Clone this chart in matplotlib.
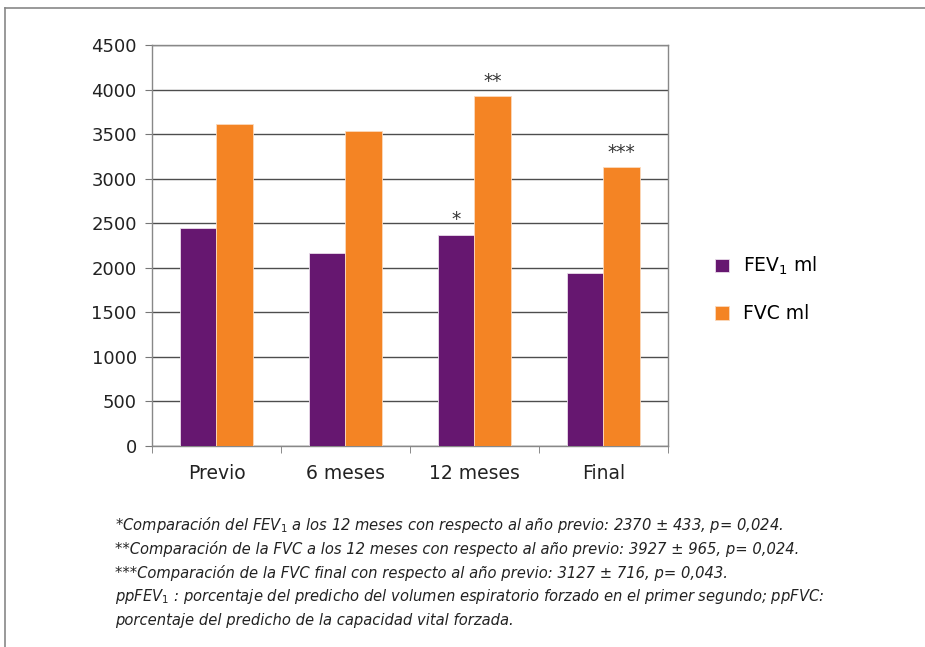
import matplotlib.pyplot as plt
import numpy as np
from matplotlib.lines import Line2D

plt.rcParams["font.family"] = ["DejaVu Sans"]

# Data
categories = ["Previo", "6 meses", "12 meses", "Final"]
fev1_ml = [2450, 2170, 2370, 1945]
fvc_ml = [3615, 3530, 3927, 3127]
fev1_marks = ["", "", "*", ""]
fvc_marks = ["", "", "**", "***"]
y_ticks = list(range(0, 4501, 500))

footnotes = [
    "*Comparación del FEV$_1$ a los 12 meses con respecto al año previo: 2370 ± 433, p= 0,024.",
    "**Comparación de la FVC a los 12 meses con respecto al año previo: 3927 ± 965, p= 0,024.",
    "***Comparación de la FVC final con respecto al año previo: 3127 ± 716, p= 0,043.",
    "ppFEV$_1$ : porcentaje del predicho del volumen espiratorio forzado en el primer segundo; ppFVC:",
    "porcentaje del predicho de la capacidad vital forzada.",
]

purple = "#661770"
orange = "#F48424"
grid_col = "#4d4d4d"

fig = plt.figure(figsize=(9.25, 6.47), dpi=100)
ax = fig.add_axes([0.1643, 0.3107, 0.5578, 0.6198])

x = np.arange(len(categories))
w = 0.28
b1 = ax.bar(x - w / 2, fev1_ml, w, color=purple, edgecolor="#e9dcea", linewidth=0.6,
            label="FEV$_1$ ml", zorder=3)
b2 = ax.bar(x + w / 2, fvc_ml, w, color=orange, edgecolor="#fbd9bd", linewidth=0.6,
            label="FVC ml", zorder=3)

# significance asterisks
for rect, m in zip(b1, fev1_marks):
    if m:
        ax.text(rect.get_x() + rect.get_width() / 2, rect.get_height() + 60, m,
                ha="center", va="bottom", fontsize=13.5, color="#333333")
for rect, m in zip(b2, fvc_marks):
    if m:
        ax.text(rect.get_x() + rect.get_width() / 2, rect.get_height() + 60, m,
                ha="center", va="bottom", fontsize=13.5, color="#333333")

ax.set_xlim(-0.5, len(categories) - 0.5)
ax.set_ylim(0, 4500)
ax.set_yticks(y_ticks)
ax.yaxis.grid(True, color=grid_col, linewidth=1.0, zorder=0)
ax.set_axisbelow(True)

# category labels between boundary ticks
ax.set_xticks(x)
ax.set_xticklabels(categories, fontsize=13.5, color="#222222")
ax.tick_params(axis="x", length=0, pad=13)
ax.set_xticks(np.arange(len(categories) + 1) - 0.5, minor=True)
ax.tick_params(axis="x", which="minor", length=5, color="#777777", direction="out")
ax.tick_params(axis="y", labelsize=13, labelcolor="#222222", length=5, color="#777777",
               pad=6)

for s in ax.spines.values():
    s.set_color("#888888")
    s.set_linewidth(1.0)

fig.legend(handles=[b1, b2], loc="center left", bbox_to_anchor=(0.755, 0.553),
           frameon=False, fontsize=13.5, handlelength=0.75, handleheight=0.75,
           labelspacing=1.45, handletextpad=0.75)

# footnotes
y0 = 1 - 525 / 647
for i, line in enumerate(footnotes):
    fig.text(115 / 925, y0 - i * 24 / 647, line, fontsize=10.6, style="italic",
             color="#222222", va="center", ha="left")

# outer frame (top and left)
fig.add_artist(Line2D([5 / 925, 1], [1 - 8 / 647, 1 - 8 / 647], color="#888888",
                      linewidth=1.2, transform=fig.transFigure))
fig.add_artist(Line2D([5 / 925, 5 / 925], [0, 1 - 8 / 647], color="#888888",
                      linewidth=1.2, transform=fig.transFigure))

fig.savefig("out.png", dpi=100)
